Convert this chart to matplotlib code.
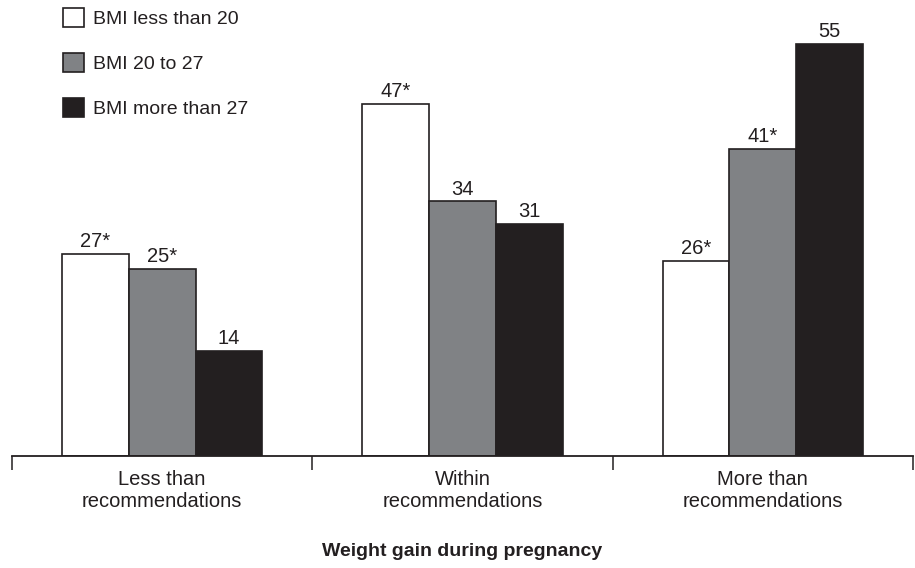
import matplotlib.pyplot as plt
import numpy as np
from matplotlib.patches import Patch

plt.rcParams['font.family'] = ['Liberation Sans', 'DejaVu Sans']

categories = ['Less than\nrecommendations', 'Within\nrecommendations', 'More than\nrecommendations']
series_names = ['BMI less than 20', 'BMI 20 to 27', 'BMI more than 27']
values = [
    [27, 47, 26],
    [25, 34, 41],
    [14, 31, 55],
]
labels = [
    ['27*', '47*', '26*'],
    ['25*', '34', '41*'],
    ['14', '31', '55'],
]
colors = ['#ffffff', '#808285', '#231f20']

fig = plt.figure(figsize=(9.15, 5.68), dpi=100)
ax = fig.add_axes([12 / 915, 112 / 568, 901 / 915, 0.765])

x = np.arange(len(categories))
width = 0.222
for i in range(3):
    pos = x + (i - 1) * width
    bars = ax.bar(pos, values[i], width, color=colors[i], edgecolor='#231f20', linewidth=1.2)
    for b, lab in zip(bars, labels[i]):
        ax.annotate(lab, (b.get_x() + b.get_width() / 2, b.get_height()),
                    xytext=(0, 2), textcoords='offset points',
                    ha='center', va='bottom', fontsize=14.5, color='#231f20')

ax.set_xlim(-0.5, 2.5)
ax.set_ylim(0, 58)
for s in ['top', 'right', 'left']:
    ax.spines[s].set_visible(False)
ax.spines['bottom'].set_linewidth(1.3)
ax.spines['bottom'].set_color('#231f20')
ax.set_yticks([])

ax.set_xticks([-0.5, 0.5, 1.5, 2.5])
ax.set_xticklabels([])
ax.tick_params(axis='x', which='major', length=10, width=1.1, color='#231f20', direction='out')
ax.set_xticks(x, minor=True)
ax.set_xticklabels(categories, minor=True, fontsize=14.5, color='#231f20', linespacing=1.18)
ax.tick_params(axis='x', which='minor', length=0, pad=10)

ax.set_xlabel('Weight gain during pregnancy', fontsize=14, fontweight='bold', color='#231f20', labelpad=23)

handles = [Patch(facecolor=c, edgecolor='#231f20', linewidth=1.2) for c in colors]
fig.legend(handles, series_names, loc='upper left', bbox_to_anchor=(45 / 915, 1.017),
           frameon=False, fontsize=14, handlelength=1.1, handleheight=1.1,
           handletextpad=0.45, labelspacing=1.3, labelcolor='#231f20')

fig.savefig('out.png', dpi=100)
